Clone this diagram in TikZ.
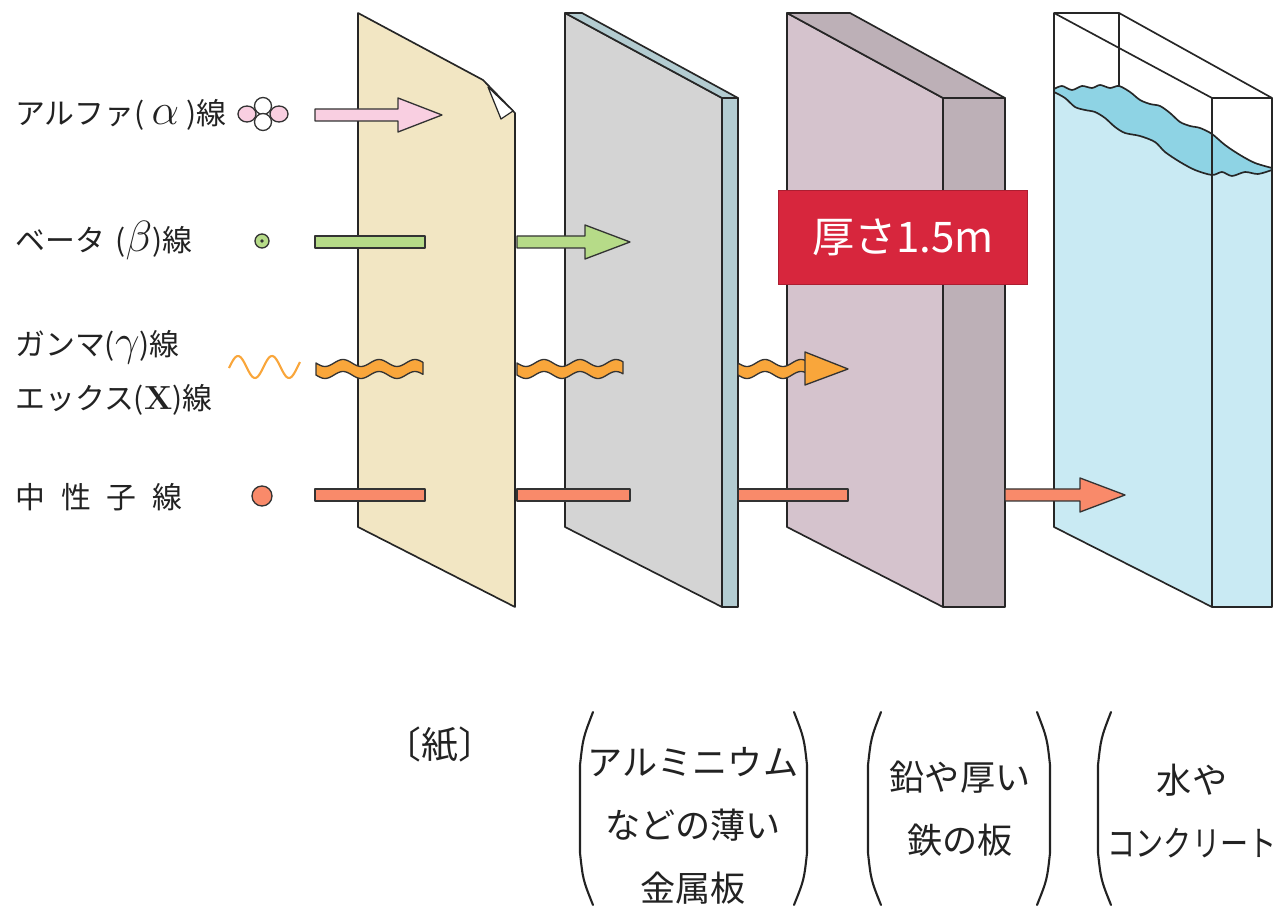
\documentclass[tikz,border=0pt]{standalone}
\usepackage{fontspec}
\usepackage{graphicx}
\newfontfamily\jp{Noto Sans CJK JP}
\definecolor{paperc}{HTML}{F2E6C3}
\definecolor{alface}{HTML}{D4D4D4}
\definecolor{aledge}{HTML}{B3CCD1}
\definecolor{pbface}{HTML}{D5C3CD}
\definecolor{pbside}{HTML}{BDB0B7}
\definecolor{waterlt}{HTML}{C9EAF3}
\definecolor{waterdk}{HTML}{8ED3E4}
\definecolor{alphac}{HTML}{F9CFE1}
\definecolor{betac}{HTML}{B6DB88}
\definecolor{gammac}{HTML}{F9A63B}
\definecolor{neutc}{HTML}{F98A6A}
\definecolor{tagred}{HTML}{D7263D}
\definecolor{txt}{HTML}{222222}

% straight arrow: start x, head base x, tip x, centre y, colour
\newcommand{\beamarrow}[5]{%
  \filldraw[beam,fill=#5] (#1,#4-6) -- (#2,#4-6) -- (#2,#4-17) -- (#3,#4)
    -- (#2,#4+17) -- (#2,#4+6) -- (#1,#4+6) -- cycle;}
% straight bar: start x, end x, centre y, colour
\newcommand{\beambar}[4]{%
  \filldraw[beam,fill=#4] (#1,#3-6) rectangle (#2,#3+6);}
% wavy bar: start x, end x, centre y
\newcommand{\waveband}[3]{%
  \filldraw[beam,fill=gammac]
    plot[domain=#1:#2,samples=50,smooth] (\x,{#3-6+3.5*sin((\x-#1)*10)})
    -- plot[domain=#2:#1,samples=50,smooth] (\x,{#3+6+3.5*sin((\x-#1)*10)})
    -- cycle;}
% label sizes
\newcommand{\lblsize}{\fontsize{17}{19}\selectfont}
\newcommand{\grksize}{\fontsize{23}{23}\selectfont}

\begin{document}
\begin{tikzpicture}[x=0.02cm,y=-0.02cm,
  edge/.style={draw=black!85,line width=0.95pt,line join=round},
  beam/.style={draw=black!80,line width=0.75pt,line join=round},
  lbl/.style={anchor=west,inner sep=0pt,text=txt,font=\jp\lblsize},
  captext/.style={inner sep=0pt,text=txt,align=center,font=\jp\fontsize{20}{36}\selectfont},
  brk/.style={draw=txt,line width=1.2pt,line cap=round}]
\path[use as bounding box] (0,0) rectangle (1274,911);

% ---- paper ----
\filldraw[edge,fill=paperc] (358,13) -- (483,80) -- (515,113) -- (515,607) -- (358,527) -- cycle;
\filldraw[edge,fill=white,line width=0.7pt] (488,87) -- (513,111) -- (501,119) -- cycle;

% ---- aluminium sheet ----
\filldraw[edge,fill=alface] (565,13) -- (722,98) -- (722,607) -- (565,527) -- cycle;
\filldraw[edge,fill=aledge] (565,13) -- (582,13) -- (738,98) -- (722,98) -- cycle;
\filldraw[edge,fill=aledge] (722,98) -- (738,98) -- (738,607) -- (722,607) -- cycle;

% ---- lead / iron block ----
\filldraw[edge,fill=pbface] (787,13) -- (943,98) -- (943,607) -- (787,527) -- cycle;
\filldraw[edge,fill=pbside] (787,13) -- (850,13) -- (1005,98) -- (943,98) -- cycle;
\filldraw[edge,fill=pbside] (943,98) -- (1005,98) -- (1005,607) -- (943,607) -- cycle;

% ---- water tank ----
\fill[waterlt] plot[smooth] coordinates {(1054,92) (1065,98) (1075,107) (1085,110) (1095,112) (1105,118) (1115,127) (1125,133) (1140,136) (1155,142) (1165,152) (1180,162) (1195,170) (1212,175) (1222,172) (1232,176) (1245,172) (1258,174) (1272,170)}
  -- (1272,607) -- (1212,607) -- (1054,527) -- cycle;
\filldraw[edge,fill=waterdk] plot[smooth] coordinates {(1054,89) (1062,86) (1072,90) (1082,86) (1092,88) (1100,85) (1110,88) (1119,86) (1130,92) (1140,100) (1150,104) (1160,106) (1170,113) (1180,122) (1190,126) (1200,128) (1212,134) (1225,145) (1240,155) (1255,163) (1272,168)}
  -- plot[smooth] coordinates {(1272,170) (1258,174) (1245,172) (1232,176) (1222,172) (1212,175) (1195,170) (1180,162) (1165,152) (1155,142) (1140,136) (1125,133) (1115,127) (1105,118) (1095,112) (1085,110) (1075,107) (1065,98) (1054,92)} -- cycle;
\draw[edge] (1054,13) -- (1119,13) -- (1272,98) -- (1272,607) -- (1212,607) -- (1054,527) -- cycle;
\draw[edge] (1054,13) -- (1212,98) -- (1272,98);
\draw[edge] (1212,98) -- (1212,607);
\draw[edge] (1119,13) -- (1119,86);

% ---- source symbols ----
\filldraw[beam,fill=alphac] (247,114) ellipse (9 and 8);
\filldraw[beam,fill=alphac] (279,114) ellipse (9 and 8);
\filldraw[beam,fill=white] (263,106) circle (8.5);
\filldraw[beam,fill=white] (263,122) circle (8.5);
\filldraw[beam,fill=betac] (262,241) circle (7);
\fill[black!80] (262,241) circle (1.8);
\draw[gammac,line width=1.2pt] plot[domain=229:300,samples=60,smooth] (\x,{367-11*sin((\x-229.5)*10.588)});
\filldraw[beam,fill=neutc] (262,496) circle (10);

% ---- alpha ----
\beamarrow{315}{398}{442}{115}{alphac}
% ---- beta ----
\beambar{315}{425}{242}{betac}
\beamarrow{517}{585}{630}{242}{betac}
% ---- gamma / X ----
\waveband{316}{423}{369}
\waveband{517}{623}{369}
\waveband{738}{808}{369}
\filldraw[beam,fill=gammac] (805,369) -- (805,352) -- (848,369) -- (805,385) -- cycle;
% ---- neutron ----
\beambar{315}{425}{495}{neutc}
\beambar{517}{630}{495}{neutc}
\beambar{738}{848}{495}{neutc}
\beamarrow{1005}{1080}{1125}{495}{neutc}

% ---- thickness tag ----
\node[fill=tagred,draw=tagred!80!black,line width=0.5pt,minimum width=4.98cm,minimum height=1.88cm,
  text=white,font=\jp\fontsize{24}{26}\selectfont] (tag) at (903,237) {厚さ1.5m};

% ---- ray names ----
\node[lbl] (la) at (15,115) {アルファ(\hspace{4pt}\grksize$\alpha$\hspace{4pt}\lblsize)線};
\node[lbl] (lb) at (15,241) {ベータ\hspace{6pt}(\grksize$\beta$\lblsize)線};
\node[lbl] (lg) at (15,347) {ガンマ(\grksize$\gamma$\lblsize)線};
\node[lbl] (lx) at (15,400) {エックス(\fontsize{19}{19}\selectfont\rmfamily\bfseries X\jp\mdseries\lblsize)線};
\node[lbl] (ln) at (15,497) {中\hspace{9pt}性\hspace{9pt}子\hspace{9pt}線};

% ---- shield captions ----
\node[captext,font=\jp\fontsize{21}{36}\selectfont] (cpaper) at (440,745) {〔紙〕};
\node[captext] (cal) at (693,826) {アルミニウム\\などの薄い\\金属板};
\node[captext] (cpb) at (960,809) {鉛や厚い\\鉄の板};
\node[captext] (cwt) at (1192,811) {水や\\\scalebox{0.8}[1]{コンクリート}};

% ---- caption brackets ----
\draw[brk] (593,712) .. controls (583,738) .. (580,765) -- (580,853) .. controls (583,880) .. (593,905);
\draw[brk] (794,712) .. controls (804,738) .. (807,765) -- (807,853) .. controls (804,880) .. (794,905);
\draw[brk] (881,712) .. controls (871,738) .. (868,765) -- (868,853) .. controls (871,880) .. (881,905);
\draw[brk] (1037,712) .. controls (1047,738) .. (1050,765) -- (1050,853) .. controls (1047,880) .. (1037,905);
\draw[brk] (1111,712) .. controls (1101,738) .. (1098,765) -- (1098,853) .. controls (1101,880) .. (1111,905);
\end{tikzpicture}
\end{document}
